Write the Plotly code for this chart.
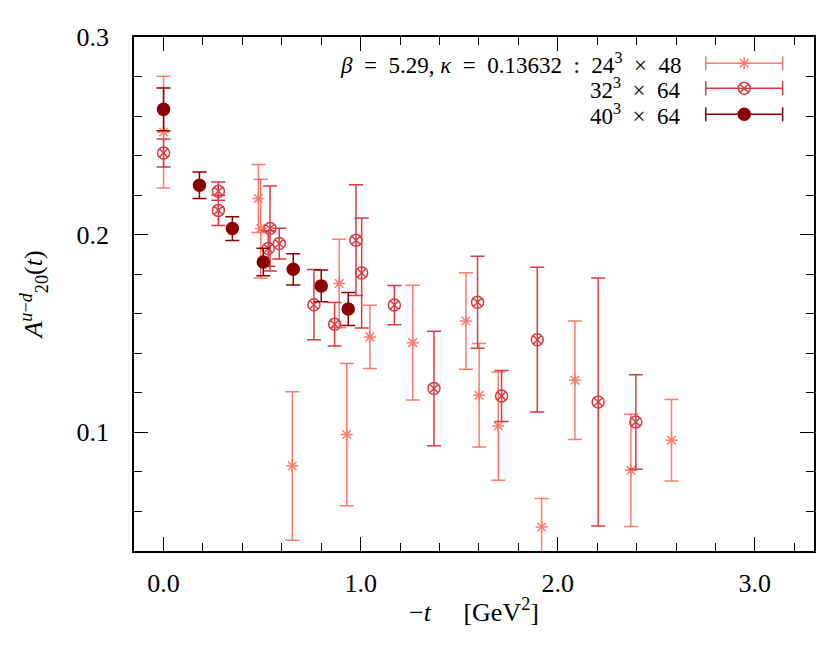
import plotly.graph_objects as go

# A20^{u-d}(t) vs -t, three lattice volumes at beta=5.29, kappa=0.13632

# 24^3 x 48
t_24 = [0.0, 0.481, 0.493, 0.653, 0.891, 0.929, 1.047, 1.264, 1.534, 1.601, 1.698, 1.918, 2.087, 2.371, 2.577]
a_24 = [0.2519, 0.2183, 0.2031, 0.0830, 0.1753, 0.0989, 0.1483, 0.1454, 0.1563, 0.1188, 0.1032, 0.0521, 0.1264, 0.0808, 0.0960]
e_24 = [0.0283, 0.0172, 0.0250, 0.0376, 0.0224, 0.0360, 0.0160, 0.0290, 0.0244, 0.0262, 0.0274, 0.0144, 0.0300, 0.0284, 0.0206]

# 32^3 x 64
t_32 = [0.0, 0.278, 0.278, 0.540, 0.531, 0.587, 0.763, 0.868, 0.976, 1.005, 1.171, 1.372, 1.593, 1.715, 1.896, 2.205, 2.396]
a_32 = [0.2413, 0.2220, 0.2123, 0.2031, 0.1930, 0.1955, 0.1646, 0.1547, 0.1972, 0.1806, 0.1644, 0.1222, 0.1658, 0.1184, 0.1469, 0.1154, 0.1053]
e_32 = [0.0071, 0.0046, 0.0076, 0.0215, 0.0090, 0.0078, 0.0178, 0.0110, 0.0280, 0.0278, 0.0099, 0.0290, 0.0233, 0.0129, 0.0366, 0.0627, 0.0239]

# 40^3 x 64
t_40 = [0.0, 0.182, 0.349, 0.506, 0.658, 0.800, 0.937]
a_40 = [0.2634, 0.2250, 0.2031, 0.1862, 0.1825, 0.1741, 0.1624]
e_40 = [0.0108, 0.0067, 0.0060, 0.0070, 0.0079, 0.0080, 0.0083]

sp = "\u2002"
labels = [f"<i>β</i>{sp}={sp}5.29, <i>κ</i>{sp}={sp}0.13632{sp}:{sp}24<sup>3</sup>{sp}×{sp}48",
          f"32<sup>3</sup>{sp}×{sp}64",
          f"40<sup>3</sup>{sp}×{sp}64"]

c_light = "#ff7b6b"
c_mid = "#d93b43"
c_dark = "#8b0000"
FONT = "Liberation Serif"

series = [
    (t_24, a_24, e_24, c_light, "asterisk-open", 10),
    (t_32, a_32, e_32, c_mid, "circle-x-open", 12),
    (t_40, a_40, e_40, c_dark, "circle", 12),
]

fig = go.Figure()
for t, a, e, col, sym, sz in series:
    fig.add_trace(go.Scatter(
        x=t, y=a, mode="markers",
        marker=dict(symbol=sym, size=sz, color=col, line=dict(color=col, width=1.5)),
        error_y=dict(type="data", array=e, visible=True, color=col, thickness=1.5, width=7),
        showlegend=False, hoverinfo="skip",
    ))

# hand-made key: text on the left, sample on the right (gnuplot style)
key_x_text = 2.634
key_x_sample = 2.946
key_half = 0.195
key_y = [0.2867, 0.2741, 0.2609]
for (t, a, e, col, sym, sz), lab, ky in zip(series, labels, key_y):
    fig.add_trace(go.Scatter(
        x=[key_x_sample], y=[ky], mode="markers",
        marker=dict(symbol=sym, size=sz, color=col, line=dict(color=col, width=1.5)),
        error_x=dict(type="constant", value=key_half, visible=True, color=col, thickness=1.5, width=7),
        showlegend=False, hoverinfo="skip",
    ))
    fig.add_annotation(x=key_x_text, y=ky, xref="x", yref="y", text=lab,
                       showarrow=False, xanchor="right", yanchor="middle",
                       font=dict(family=FONT, size=23, color="black"))

axis_common = dict(
    showline=True, linecolor="black", linewidth=1.5, mirror="ticks",
    ticks="inside", ticklen=14, tickwidth=1.3, tickcolor="black",
    showgrid=False, zeroline=False, tickformat=".1f",
    tickfont=dict(family=FONT, size=26, color="black"),
)

fig.update_xaxes(
    range=[-0.15, 3.3], dtick=1.0, tick0=0,
    minor=dict(ticks="inside", ticklen=8, dtick=0.2, tick0=0, tickcolor="black", tickwidth=1.3),
    title=dict(text="−<i>t</i>     [GeV<sup>2</sup>]", font=dict(family=FONT, size=26, color="black"), standoff=6),
    ticklabelstandoff=8,
    **axis_common,
)
fig.update_yaxes(
    range=[0.04, 0.3], dtick=0.1, tick0=0,
    minor=dict(ticks="inside", ticklen=8, dtick=0.02, tick0=0, tickcolor="black", tickwidth=1.3),
    title=dict(text="<i>A</i><sup><i>u</i>−<i>d</i></sup><sub>20</sub>(<i>t</i>)", font=dict(family=FONT, size=26, color="black"), standoff=26),
    ticklabelstandoff=18,
    **axis_common,
)

# page body has an 8px margin, so the figure is shrunk and the margins shifted
fig.update_layout(
    width=815, height=639,
    margin=dict(l=126, r=9, t=29, b=96, autoexpand=False),
    paper_bgcolor="white", plot_bgcolor="white",
    showlegend=False,
)

fig.write_html("out.html")
